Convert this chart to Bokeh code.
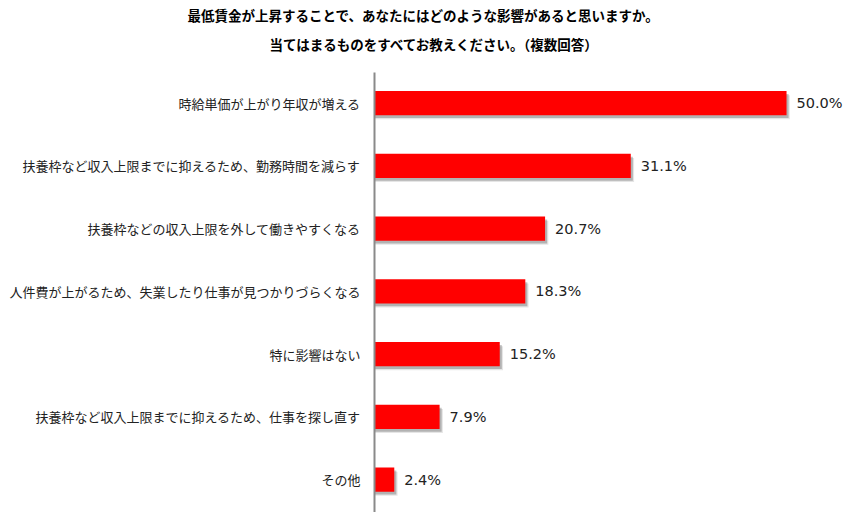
from bokeh.plotting import figure
from bokeh.models import Range1d, FixedTicker, Title, ColumnDataSource
from bokeh.core.properties import value
from bokeh.embed import file_html
from bokeh.resources import INLINE

categories = [
    "時給単価が上がり年収が増える",
    "扶養枠など収入上限までに抑えるため、勤務時間を減らす",
    "扶養枠などの収入上限を外して働きやすくなる",
    "人件費が上がるため、失業したり仕事が見つかりづらくなる",
    "特に影響はない",
    "扶養枠など収入上限までに抑えるため、仕事を探し直す",
    "その他",
]
values = [50.0, 31.1, 20.7, 18.3, 15.2, 7.9, 2.4]
value_labels = ["50.0%", "31.1%", "20.7%", "18.3%", "15.2%", "7.9%", "2.4%"]
title_line1 = "最低賃金が上昇することで、あなたにはどのような影響があると思いますか。"
title_line2 = "当てはまるものをすべてお教えください。（複数回答）"

idx = list(range(len(categories)))
source = ColumnDataSource(dict(
    y=idx, v=values, lab=value_labels,
    sy=[i + 0.045 for i in idx], sv=[v + 0.25 for v in values],
    sy2=[i + 0.065 for i in idx], sv2=[v + 0.4 for v in values],
))

JP = "Noto Sans CJK JP"

p = figure(width=848, height=512, output_backend="svg", toolbar_location=None,
           x_range=Range1d(0, 57.52), y_range=Range1d(6.523, -0.4885),
           min_border_left=374, min_border_right=0, min_border_top=70,
           min_border_bottom=0, title=None)

title_style = dict(text_font=JP, text_font_size="13.5px", text_font_style="bold",
                   text_color="#000000")
try:
    t2 = Title(text=title_line2, align="left", offset=-105, standoff=10,
               padding=dict(left=0, right=0, top=0, bottom=14), **title_style)
except Exception:
    t2 = Title(text=title_line2, align="left", offset=-105, vertical_align="top",
               standoff=24, **title_style)
p.add_layout(t2, "above")
p.add_layout(Title(text=title_line1, align="left", offset=-187, standoff=4,
                   **title_style), "above")

# shadows
p.hbar(y="sy2", left=0, right="sv2", height=0.385, source=source,
       fill_color="#000000", fill_alpha=0.10, line_color=None)
p.hbar(y="sy", left=0, right="sv", height=0.385, source=source,
       fill_color="#000000", fill_alpha=0.22, line_color=None)
# bars
p.hbar(y="y", left=0, right="v", height=0.385, source=source,
       fill_color="#ff0000", line_color=None)

p.text(x="v", y="y", text="lab", source=source, x_offset=10,
       text_baseline="middle", text_align="left",
       text_font=value("DejaVu Sans"), text_font_size="14.5px", text_color="#222222")

p.xaxis.visible = False
p.xgrid.visible = False
p.ygrid.visible = False
p.outline_line_color = None

ya = p.yaxis[0]
ya.ticker = FixedTicker(ticks=idx)
ya.major_label_overrides = {i: c for i, c in zip(idx, categories)}
ya.axis_line_color = "#8a8a8a"
ya.axis_line_width = 2
ya.major_tick_line_color = None
ya.minor_tick_line_color = None
ya.major_label_standoff = 8
ya.major_label_text_font = JP
ya.major_label_text_font_size = "13px"
ya.major_label_text_color = "#222222"

open("out.html", "w").write(file_html(p, INLINE))
